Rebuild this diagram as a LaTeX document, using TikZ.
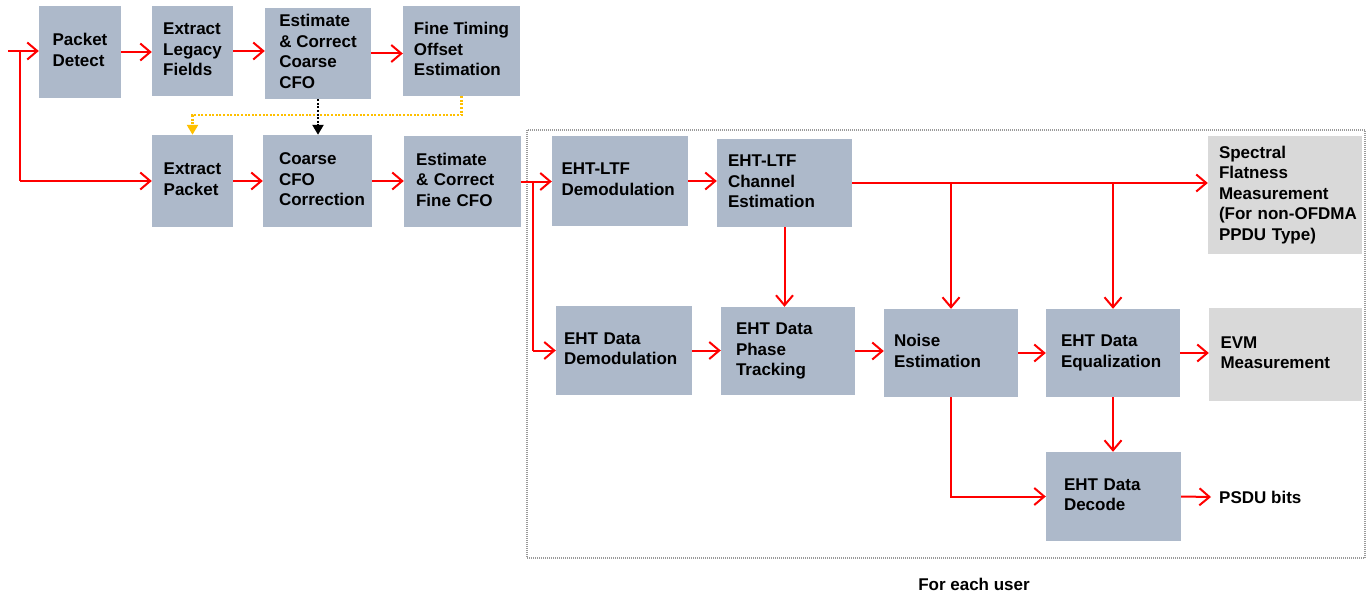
\documentclass[tikz,border=0pt]{standalone}
\usepackage{fontspec}
\setmainfont{Liberation Sans}
\usetikzlibrary{arrows.meta,calc}
\definecolor{boxblue}{HTML}{ADB9CA}
\definecolor{boxgray}{HTML}{D9D9D9}
\definecolor{arrred}{HTML}{FF0000}
\definecolor{dotyellow}{HTML}{FFC000}
\definecolor{framegray}{HTML}{9A9A9A}
\newcommand\mlt[1]{\begin{tabular}{@{}l@{}}#1\end{tabular}}
\tikzset{
  blk/.style={fill=boxblue, draw=none, inner sep=0pt,
    font=\bfseries\fontsize{17}{20.5}\selectfont},
  gblk/.style={blk, fill=boxgray},
  bx/.style n args={2}{minimum width=#1pt, minimum height=#2pt},
  lft/.style n args={2}{text width=#1pt, inner xsep=#2pt, align=left},
  arr/.style={draw=arrred, line width=2pt,
    -{Straight Barb[length=10pt,width=17pt,line width=2pt]}},
  redline/.style={draw=arrred, line width=2pt},
  blkdot/.style={draw=black, line width=2.3pt, dash pattern=on 2pt off 1.6pt,
    -{Triangle[length=10pt,width=11pt]}},
  ydot/.style={draw=dotyellow, line width=2.4pt, dash pattern=on 2pt off 1.6pt,
    -{Triangle[length=10pt,width=11pt]}},
  frm/.style={draw=framegray, line width=1.3pt, dash pattern=on 1pt off 1pt},
  lbl/.style={font=\bfseries\fontsize{17}{20.5}\selectfont, inner sep=0pt}
}
\begin{document}
\begin{tikzpicture}[x=1pt,y=-1pt]
\useasboundingbox (0,0) rectangle (1366,594);
% top row
\node[blk, bx={82}{92}] (pd) at (80,52) {\mlt{Packet\\Detect}};
\node[blk, bx={81}{90}] (elf) at (192.5,51) {\mlt{Extract\\Legacy\\Fields}};
\node[blk, bx={106}{91}] (ecc) at (318,53.5) {\mlt{Estimate\\\& Correct\\Coarse\\CFO}};
\node[blk, bx={117}{90}] (fto) at (461.5,51) {\mlt{Fine Timing\\Offset\\Estimation}};
% second row
\node[blk, bx={81}{92}] (ep) at (192.5,181) {\mlt{Extract\\Packet}};
\node[blk, bx={109}{92}, lft={77}{16}] (ccc) at (317.5,181) {\mlt{Coarse\\CFO\\Correction}};
\node[blk, bx={117}{91}, lft={93}{12}] (efc) at (462.5,181.5) {\mlt{Estimate\\\& Correct\\Fine CFO}};
% per-user frame
\draw[frm] (527,130) rectangle (1365,558);
\node[blk, bx={136}{90}, lft={117}{9.5}] (ltfd) at (620,181) {\mlt{EHT-LTF\\Demodulation}};
\node[blk, bx={135}{88}, lft={113}{11}] (ltfc) at (784.5,183) {\mlt{EHT-LTF\\Channel\\Estimation}};
\node[gblk, bx={154}{118}, lft={132}{11}] (sfm) at (1285,195) {\mlt{Spectral\\Flatness\\Measurement\\(For non-OFDMA\\PPDU Type)}};
\node[blk, bx={136}{89}, lft={120}{8}] (ddm) at (624,350.5) {\mlt{EHT Data\\Demodulation}};
\node[blk, bx={134}{88}, lft={104}{15}] (dpt) at (788,351) {\mlt{EHT Data\\Phase\\Tracking}};
\node[blk, bx={134}{88}, lft={114}{10}] (ne) at (951,353) {\mlt{Noise\\Estimation}};
\node[blk, bx={134}{88}, lft={104}{15}] (deq) at (1113,353) {\mlt{EHT Data\\Equalization}};
\node[gblk, bx={153}{93}, lft={130}{11.5}] (evm) at (1285.5,354.5) {\mlt{EVM\\Measurement}};
\node[blk, bx={135}{89}, lft={99}{18}] (dec) at (1113.5,496.5) {\mlt{EHT Data\\Decode}};
\node[lbl, anchor=west, inner xsep=8pt] (psdu) at (1211,497) {PSDU bits};
\node[lbl] (feu) at (974,584) {For each user};
% coordinates
\coordinate (in) at (8,51);
\coordinate (j0) at (20,51);
\coordinate (j1) at (533,181.5);
% connectors
\draw[arr] (in) -- (in -| pd.west);
\draw[redline] (j0) -- (j0 |- ep.west);
\draw[arr] (j0 |- ep.west) -- (ep.west);
\draw[arr] (pd.east) -- (pd.east -| elf.west);
\draw[arr] (elf.east) -- (elf.east -| ecc.west);
\draw[arr] (ecc.east) -- (ecc.east -| fto.west);
\draw[ydot] (fto.south) -- ++(0,19) -| (ep.north);
\draw[blkdot] (ecc.south) -- (ecc.south |- ccc.north);
\draw[arr] (ep.east) -- (ep.east -| ccc.west);
\draw[arr] (ccc.east) -- (ccc.east -| efc.west);
\draw[arr] (efc.east) -- (efc.east -| ltfd.west);
\draw[redline] (j1) -- (j1 |- ddm.west);
\draw[arr] (j1 |- ddm.west) -- (ddm.west);
\draw[arr] (ltfd.east) -- (ltfd.east -| ltfc.west);
\draw[arr] (ltfc.east) -- (ltfc.east -| sfm.west);
\draw[arr] (ltfc.east -| ne.north) -- (ne.north);
\draw[arr] (ltfc.east -| deq.north) -- (deq.north);
\draw[arr] (ltfc.south) -- (ltfc.south |- dpt.north);
\draw[arr] (ddm.east) -- (ddm.east -| dpt.west);
\draw[arr] (dpt.east) -- (dpt.east -| ne.west);
\draw[arr] (ne.east) -- (ne.east -| deq.west);
\draw[arr] (deq.east) -- (deq.east -| evm.west);
\draw[arr] (deq.south) -- (deq.south |- dec.north);
\draw[arr] (ne.south) |- (dec.west);
\draw[arr] (dec.east) -- (psdu.west);
\end{tikzpicture}
\end{document}
